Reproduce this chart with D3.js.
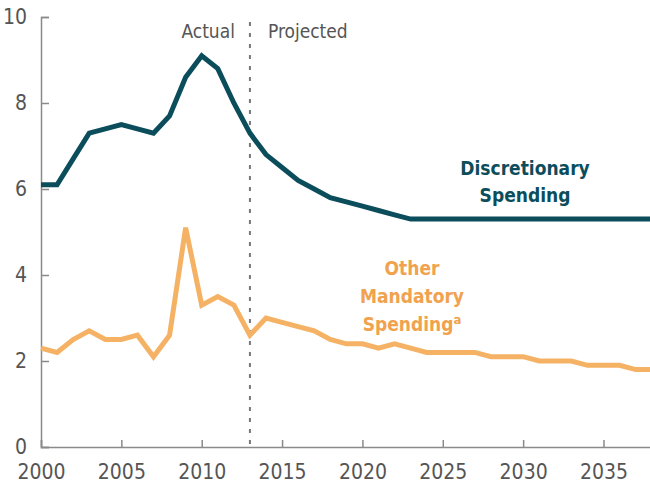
<!DOCTYPE html>
<html>
<head>
<meta charset="utf-8">
<script src="https://cdn.jsdelivr.net/npm/d3@7"></script>
<style>
  html, body { margin: 0; padding: 0; background: #fff; }
  svg { display: block; }
  text { font-family: "Liberation Sans Narrow", "DejaVu Sans Condensed", "Roboto", sans-serif; }
</style>
</head>
<body>
<svg id="chart" width="650" height="487"></svg>
<script>
const years = d3.range(2000, 2039);
const discretionary = [6.1, 6.1, 6.7, 7.3, 7.4, 7.5, 7.4, 7.3, 7.7, 8.6, 9.1, 8.8, 8.0, 7.3,
  6.8, 6.5, 6.2, 6.0, 5.8, 5.7, 5.6, 5.5, 5.4, 5.3, 5.3, 5.3, 5.3, 5.3, 5.3, 5.3,
  5.3, 5.3, 5.3, 5.3, 5.3, 5.3, 5.3, 5.3, 5.3];
const otherMandatory = [2.3, 2.2, 2.5, 2.7, 2.5, 2.5, 2.6, 2.1, 2.6, 5.1, 3.3, 3.5, 3.3, 2.6,
  3.0, 2.9, 2.8, 2.7, 2.5, 2.4, 2.4, 2.3, 2.4, 2.3, 2.2, 2.2, 2.2, 2.2, 2.1, 2.1,
  2.1, 2.0, 2.0, 2.0, 1.9, 1.9, 1.9, 1.8, 1.8];
const yTicks = [0, 2, 4, 6, 8, 10];
const xTicks = [2000, 2005, 2010, 2015, 2020, 2025, 2030, 2035];
const divideYear = 2013;
const periodLabels = ["Actual", "Projected"];
const seriesLabels = {
  discretionary: ["Discretionary", "Spending"],
  other: ["Other", "Mandatory", "Spending"]
};

const teal = "#0c4d5c";
const orange = "#f5b264";
const orangeText = "#f0a24e";
const axisColor = "#8a8a8a";
const textColor = "#555555";

const svg = d3.select("#chart");
const x = d3.scaleLinear().domain([2000, 2038]).range([41, 651.7]);
const y = d3.scaleLinear().domain([0, 10]).range([447, 17]);

// y axis
const yAxis = d3.axisLeft(y).tickValues(yTicks).tickSize(-8).tickPadding(14).tickFormat(d3.format("d"));
const gy = svg.append("g").attr("transform", "translate(41,0)").call(yAxis);
gy.select(".domain").attr("stroke", axisColor).attr("stroke-width", 1.5);
gy.selectAll(".tick line").attr("stroke", axisColor).attr("stroke-width", 1.5);
gy.selectAll(".tick text").attr("fill", textColor).style("font-size", "21px");

// x axis
const xAxis = d3.axisBottom(x).tickValues(xTicks).tickSize(-7).tickPadding(17).tickFormat(d3.format("d"));
const gx = svg.append("g").attr("transform", "translate(0,447)").call(xAxis);
gx.select(".domain").attr("stroke", axisColor).attr("stroke-width", 1.5);
gx.selectAll(".tick line").attr("stroke", axisColor).attr("stroke-width", 1.5);
gx.selectAll(".tick text").attr("fill", textColor).style("font-size", "21px");
svg.selectAll(".tick text").attr("font-family", null)
  .style("font-family", "'Liberation Sans Narrow', 'DejaVu Sans Condensed', sans-serif");

// divider
svg.append("line")
  .attr("x1", x(divideYear)).attr("x2", x(divideYear))
  .attr("y1", 22).attr("y2", 447)
  .attr("stroke", "#777").attr("stroke-width", 2)
  .attr("stroke-dasharray", "4,7");

svg.append("text").attr("x", x(divideYear) - 15).attr("y", 38)
  .attr("text-anchor", "end").attr("fill", textColor).style("font-size", "19px")
  .text(periodLabels[0]);
svg.append("text").attr("x", x(divideYear) + 18).attr("y", 38)
  .attr("text-anchor", "start").attr("fill", textColor).style("font-size", "19px")
  .text(periodLabels[1]);

// lines
const line = d3.line().x((d, i) => x(years[i])).y(d => y(d));
svg.append("path").datum(otherMandatory).attr("d", line)
  .attr("fill", "none").attr("stroke", orange).attr("stroke-width", 5);
svg.append("path").datum(discretionary).attr("d", line)
  .attr("fill", "none").attr("stroke", teal).attr("stroke-width", 5);

// labels
const dl = svg.append("text").attr("text-anchor", "middle").attr("fill", teal)
  .style("font-size", "19px").style("font-weight", "bold");
dl.append("tspan").attr("x", 525).attr("y", 175).text(seriesLabels.discretionary[0]);
dl.append("tspan").attr("x", 525).attr("y", 202).text(seriesLabels.discretionary[1]);

const ol = svg.append("text").attr("text-anchor", "middle").attr("fill", orangeText)
  .style("font-size", "19px").style("font-weight", "bold");
ol.append("tspan").attr("x", 412).attr("y", 275).text(seriesLabels.other[0]);
ol.append("tspan").attr("x", 412).attr("y", 303).text(seriesLabels.other[1]);
const t3 = ol.append("tspan").attr("x", 412).attr("y", 331);
t3.append("tspan").text(seriesLabels.other[2]);
t3.append("tspan").attr("dy", -7).style("font-size", "13px").text("a");
</script>
</body>
</html>
